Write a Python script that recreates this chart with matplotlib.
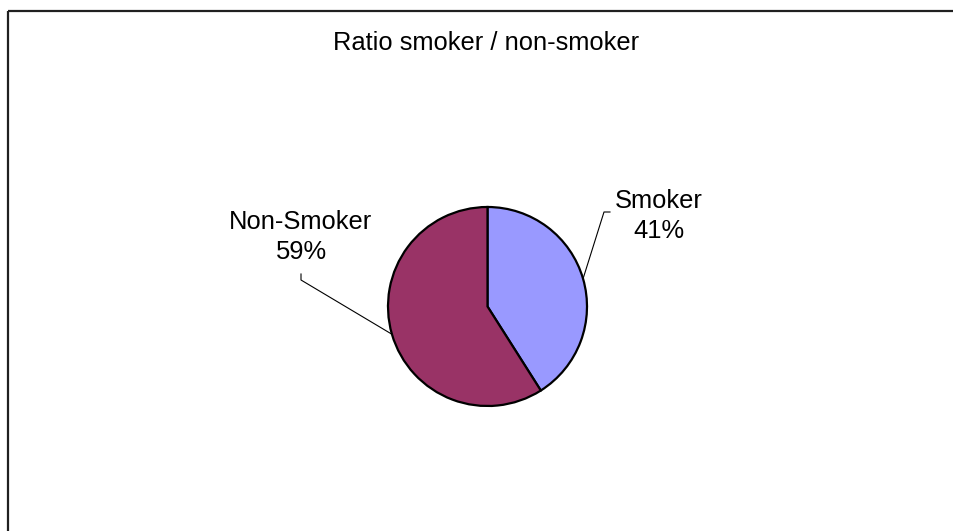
import numpy as np
import matplotlib
matplotlib.use("Agg")
import matplotlib.pyplot as plt

# 数据
categories = ["Smoker", "Non-Smoker"]
shares = [41, 59]
colors = ["#9999FF", "#993366"]
title = "Ratio smoker / non-smoker"

W, H = 954, 531
plt.rcParams["font.family"] = ["Liberation Sans", "DejaVu Sans"]

fig = plt.figure(figsize=(W / 100, H / 100), dpi=100)
ax = fig.add_axes([0, 0, 1, 1])
ax.set_xlim(0, W)
ax.set_ylim(0, H)
ax.axis("off")


def py(y):
    # 像素坐标（自上而下）转数据坐标
    return H - y


# 外框（图片只截到左上两条边）
ax.plot([8, W + 5], [py(11), py(11)], color="#202020", lw=1.6, solid_capstyle="butt")
ax.plot([8, 8], [py(11), -5], color="#202020", lw=1.6, solid_capstyle="butt")

# 标题
ax.text(486.5, py(50), title, ha="center", va="baseline", fontsize=18.4)

# 饼图
cx, cy, r = 487.5, py(306.5), 99.5
wedges, _ = ax.pie(shares, colors=colors, startangle=90, counterclock=False,
                   center=(cx, cy), radius=r,
                   wedgeprops=dict(edgecolor="black", linewidth=1.6))
ax.set_xlim(0, W)
ax.set_ylim(0, H)
ax.set_aspect("equal")

# 标签位置（第二行基线）与引线拐点（像素）
label_pos = [(659, 238), (301, 259)]
tick_pts = [((610, 212), (604, 212)), ((301, 274), (301, 280))]

for w, name, val, (lx, ly), (p0, p1) in zip(wedges, categories, shares, label_pos, tick_pts):
    ax.text(lx, py(ly), f"{name}\n{val}%", ha="center", va="baseline",
            fontsize=18.4, linespacing=1.3)
    mid = np.deg2rad((w.theta1 + w.theta2) / 2)
    ex, ey = cx + r * np.cos(mid), cy + r * np.sin(mid)
    ax.plot([p0[0], p1[0], ex], [py(p0[1]), py(p1[1]), ey], color="black", lw=0.8)

fig.savefig("out.png", dpi=100)
